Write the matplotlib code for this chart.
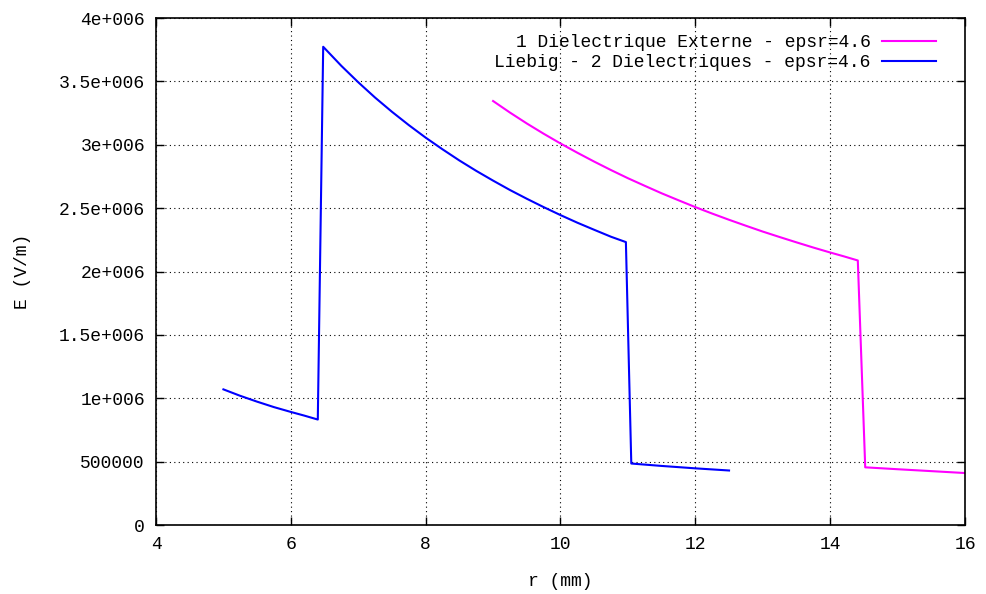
import matplotlib
matplotlib.use("Agg")
import matplotlib.pyplot as plt

plt.rcParams['font.family'] = ['Liberation Mono', 'DejaVu Sans Mono']

# Blue series: Liebig - 2 Dielectriques
r_blue = [5.0, 5.25, 5.5, 5.75, 6.0, 6.2, 6.4,
          6.48, 6.75, 7.0, 7.25, 7.5, 7.75, 8.0, 8.25, 8.5, 8.75, 9.0, 9.25, 9.5,
          9.75, 10.0, 10.25, 10.5, 10.75, 10.97,
          11.05, 11.5, 12.0, 12.5]
E_blue = [1.07e6, 1.019e6, 0.973e6, 0.930e6, 0.892e6, 0.863e6, 0.832e6,
          3.773e6, 3.622e6, 3.493e6, 3.372e6, 3.26e6, 3.155e6, 3.056e6, 2.964e6,
          2.876e6, 2.794e6, 2.717e6, 2.643e6, 2.574e6, 2.508e6, 2.445e6, 2.385e6,
          2.329e6, 2.274e6, 2.232e6,
          0.485e6, 0.466e6, 0.447e6, 0.43e6]

# Magenta series: 1 Dielectrique Externe
r_mag = [9.0, 9.25, 9.5, 9.75, 10.0, 10.25, 10.5, 10.75, 11.0, 11.25, 11.5, 11.75,
         12.0, 12.25, 12.5, 12.75, 13.0, 13.25, 13.5, 13.75, 14.0, 14.2, 14.41,
         14.52, 15.0, 15.5, 16.0]
E_mag = [3.345e6, 3.254e6, 3.168e6, 3.087e6, 3.01e6, 2.937e6, 2.867e6, 2.80e6,
         2.736e6, 2.676e6, 2.617e6, 2.562e6, 2.508e6, 2.457e6, 2.408e6, 2.361e6,
         2.315e6, 2.272e6, 2.23e6, 2.189e6, 2.15e6, 2.12e6, 2.087e6,
         0.455e6, 0.44e6, 0.425e6, 0.41e6]

x_ticks = [4, 6, 8, 10, 12, 14, 16]
y_ticks = [0, 0.5e6, 1e6, 1.5e6, 2e6, 2.5e6, 3e6, 3.5e6, 4e6]
y_tick_labels = ['0', '500000', '1e+006', '1.5e+006', '2e+006', '2.5e+006',
                 '3e+006', '3.5e+006', '4e+006']

fig = plt.figure(figsize=(9.86, 5.94), dpi=100)
ax = fig.add_axes([156/986, 1 - 525/594, (965-156)/986, (525-18)/594])

ax.plot(r_mag, E_mag, color='#ff00ff', lw=1.5, label='1 Dielectrique Externe - epsr=4.6')
ax.plot(r_blue, E_blue, color='#0000ff', lw=1.5, label='Liebig - 2 Dielectriques - epsr=4.6')

ax.set_xlim(4, 16)
ax.set_ylim(0, 4e6)
ax.set_xticks(x_ticks)
ax.set_xticklabels([str(v) for v in x_ticks])
ax.set_yticks(y_ticks)
ax.set_yticklabels(y_tick_labels)
ax.tick_params(direction='in', top=True, right=True, labelsize=13, length=6,
               width=1, pad=8, colors='black')
ax.grid(True, color='black', linestyle=(0, (1, 3)), linewidth=0.8)
for s in ax.spines.values():
    s.set_linewidth(1.2)

ax.set_xlabel('r (mm)', fontsize=13, labelpad=14)
ax.set_ylabel('E (V/m)', fontsize=13, labelpad=20)

leg = ax.legend(loc='upper right', bbox_to_anchor=(1 - 13/809, 1.0),
                frameon=False, markerfirst=False, fontsize=13,
                handlelength=3.0, labelspacing=0.15, handletextpad=0.6,
                borderaxespad=0.5)

fig.savefig('out.png', dpi=100)
